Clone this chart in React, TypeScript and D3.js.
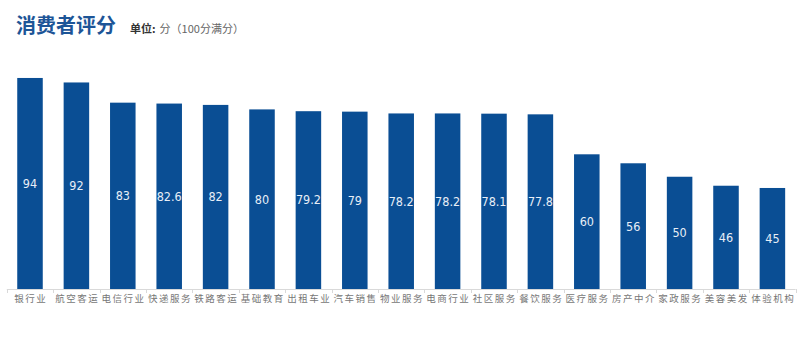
import { useEffect, useRef } from 'react';
import * as d3 from 'd3';

const categories = [
  '银行业', '航空客运', '电信行业', '快递服务', '铁路客运', '基础教育', '出租车业', '汽车销售',
  '物业服务', '电商行业', '社区服务', '餐饮服务', '医疗服务', '房产中介', '家政服务', '美容美发', '体验机构',
];
const scores = [94, 92, 83, 82.6, 82, 80, 79.2, 79, 78.2, 78.2, 78.1, 77.8, 60, 56, 50, 46, 45];

const title = '消费者评分';
const unitLabel = '单位:';
const unitText = '分（100分满分）';

export default function App() {
  const ref = useRef<SVGSVGElement>(null);

  useEffect(() => {
    const svgElement = ref.current;
    if (!svgElement) {
      return;
    }
    const svg = d3.select(svgElement);
    svg.selectAll('*').remove();

    const width = 806;
    const height = 353;
    const baseline = 289;
    const font = '"Noto Sans CJK SC", "Noto Sans", sans-serif';

    svg.attr('viewBox', `0 0 ${width} ${height}`);

    const x = d3
      .scaleBand<string>()
      .domain(categories)
      .range([6.8, 795.6])
      .paddingInner(0.45)
      .paddingOuter(0.225);
    const y = d3.scaleLinear().domain([0, 100]).range([baseline, 64.5]);

    svg
      .append('text')
      .attr('x', 16)
      .attr('y', 33)
      .attr('font-family', font)
      .attr('font-weight', 700)
      .attr('font-size', 20)
      .attr('fill', '#1d5597')
      .text(title);

    const sub = svg
      .append('text')
      .attr('x', 130)
      .attr('y', 33)
      .attr('font-family', font)
      .attr('font-size', 11)
      .attr('fill', '#666');
    sub.append('tspan').attr('font-weight', 700).attr('fill', '#333').text(unitLabel);
    sub.append('tspan').attr('dx', 4).text(unitText);

    const data = categories.map((c, i) => ({ c, v: scores[i] }));

    svg
      .append('g')
      .selectAll('rect')
      .data(data)
      .join('rect')
      .attr('x', (d) => x(d.c) ?? 0)
      .attr('y', (d) => y(d.v))
      .attr('width', x.bandwidth())
      .attr('height', (d) => baseline - y(d.v))
      .attr('fill', '#0a4e94');

    svg
      .append('g')
      .selectAll('text')
      .data(data)
      .join('text')
      .attr('x', (d) => (x(d.c) ?? 0) + x.bandwidth() / 2)
      .attr('y', (d) => (y(d.v) + baseline) / 2)
      .attr('dy', '0.35em')
      .attr('text-anchor', 'middle')
      .attr('font-family', '"DejaVu Sans Condensed", "Roboto Condensed", sans-serif')
      .attr('font-size', 12.5)
      .attr('fill', '#e8eef7')
      .text((d) => String(d.v));

    // axis
    const axis = svg.append('g');
    const [r0, r1] = x.range();
    axis
      .append('line')
      .attr('x1', r0)
      .attr('x2', r1)
      .attr('y1', baseline + 0.5)
      .attr('y2', baseline + 0.5)
      .attr('stroke', '#d9d9d9');
    const step = x.step();
    d3.range(categories.length + 1).forEach((i) => {
      const tx = Math.round(r0 + i * step) + 0.5;
      axis
        .append('line')
        .attr('x1', tx)
        .attr('x2', tx)
        .attr('y1', baseline)
        .attr('y2', baseline + 4)
        .attr('stroke', '#d9d9d9');
    });

    axis
      .selectAll('text')
      .data(categories)
      .join('text')
      .attr('x', (d) => (x(d) ?? 0) + x.bandwidth() / 2 + 0.75)
      .attr('y', 302)
      .attr('text-anchor', 'middle')
      .attr('font-family', font)
      .attr('font-size', 9.5)
      .attr('letter-spacing', 1.5)
      .attr('fill', '#777')
      .text((d) => d);
  }, []);

  return (
    <svg
      ref={ref}
      width={806}
      height={353}
      style={{ position: 'absolute', left: 0, top: 0, background: '#fff' }}
    />
  );
}
